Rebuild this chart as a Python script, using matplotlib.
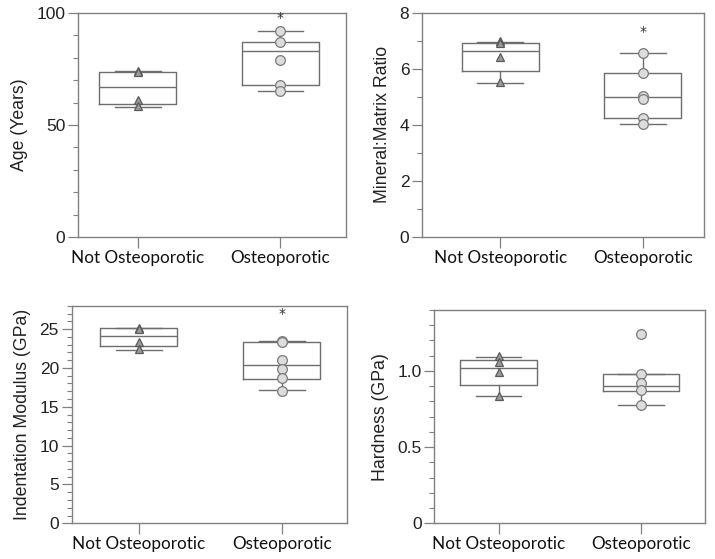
import matplotlib
matplotlib.use("Agg")
import matplotlib.pyplot as plt
from matplotlib.ticker import MultipleLocator

groups = ["Not Osteoporotic", "Osteoporotic"]

# individual points
age_not = [74.0, 73.5, 61.0, 58.5]
age_ost = [92.1, 87.0, 79.0, 68.0, 65.0]
mm_not = [6.99, 6.93, 6.43, 5.52]
mm_ost = [6.57, 5.86, 5.05, 4.94, 4.25, 4.02]
mod_not = [25.2, 25.0, 23.3, 22.4]
mod_ost = [23.45, 23.4, 21.0, 19.9, 18.7, 17.05]
hard_not = [1.10, 1.057, 0.99, 0.838]
hard_ost = [1.243, 0.98, 0.919, 0.875, 0.775]

# box stats: whislo, q1, median, q3, whishi
age_box = [[58.0, 59.4, 67.0, 73.5, 74.0], [65.0, 67.9, 82.9, 87.0, 91.8]]
mm_box = [[5.5, 5.94, 6.63, 6.93, 6.96], [4.04, 4.24, 5.0, 5.86, 6.57]]
mod_box = [[22.3, 22.8, 24.1, 25.1, 25.2], [17.1, 18.6, 20.4, 23.4, 23.5]]
hard_box = [[0.834, 0.908, 1.018, 1.07, 1.094], [0.775, 0.871, 0.904, 0.98, 0.98]]

# significance star height (None = no star)
age_star = 97.8
mm_star = 7.3
mod_star = 26.9
hard_star = None

line_col = "#6e6e6e"
spine_col = "#808080"

fig = plt.figure(figsize=(7.15, 5.59), dpi=100)

panels = [
    dict(rect=[0.109, 0.576, 0.375, 0.401], pts=(age_not, age_ost), box=age_box,
         star=age_star, ylim=(0, 100), major=50, minor=10, ylabel="Age (Years)",
         xlim=(0.58, 2.46), fmt=lambda v: f"{v:.0f}"),
    dict(rect=[0.590, 0.576, 0.395, 0.401], pts=(mm_not, mm_ost), box=mm_box,
         star=mm_star, ylim=(0, 8), major=2, minor=1, ylabel="Mineral:Matrix Ratio",
         xlim=(0.45, 2.43), fmt=lambda v: f"{v:.0f}"),
    dict(rect=[0.100, 0.0639, 0.385, 0.389], pts=(mod_not, mod_ost), box=mod_box,
         star=mod_star, ylim=(0, 28), major=5, minor=1, ylabel="Indentation Modulus (GPa)",
         xlim=(0.53, 2.455), fmt=lambda v: f"{v:.0f}"),
    dict(rect=[0.607, 0.0639, 0.379, 0.3816], pts=(hard_not, hard_ost), box=hard_box,
         star=hard_star, ylim=(0, 1.4), major=0.5, minor=0.1, ylabel="Hardness (GPa)",
         xlim=(0.545, 2.45), fmt=lambda v: "0" if v == 0 else f"{v:.1f}"),
]

for p in panels:
    ax = fig.add_axes(p["rect"])
    stats = []
    for b in p["box"]:
        stats.append(dict(whislo=b[0], q1=b[1], med=b[2], q3=b[3], whishi=b[4], fliers=[]))
    ax.bxp(stats, positions=[1, 2], widths=0.54, showfliers=False,
           boxprops=dict(color=line_col, linewidth=1.0),
           medianprops=dict(color=line_col, linewidth=1.0),
           whiskerprops=dict(color=line_col, linewidth=1.0),
           capprops=dict(color=line_col, linewidth=1.0), capwidths=0.32)
    not_pts, ost_pts = p["pts"]
    ax.plot([1] * len(not_pts), not_pts, linestyle="none", marker="^", markersize=6,
            markerfacecolor="#9a9a9a", markeredgecolor="#5a5a5a", markeredgewidth=0.9, zorder=3)
    ax.plot([2] * len(ost_pts), ost_pts, linestyle="none", marker="o", markersize=7,
            markerfacecolor="#dcdcdc", markeredgecolor="#7a7a7a", markeredgewidth=0.9, zorder=3)
    if p["star"] is not None:
        ax.text(2, p["star"], "*", ha="center", va="center", fontsize=10, color="#333333")

    ax.set_xlim(*p["xlim"])
    ax.set_ylim(*p["ylim"])
    ax.yaxis.set_major_locator(MultipleLocator(p["major"]))
    ax.yaxis.set_minor_locator(MultipleLocator(p["minor"]))
    ticks = ax.get_yticks()
    ticks = [t for t in ticks if p["ylim"][0] - 1e-9 <= t <= p["ylim"][1] + 1e-9]
    ax.set_yticks(ticks)
    ax.set_yticklabels([p["fmt"](t) for t in ticks], fontsize=12.5, family="Liberation Sans",
                       color="#222222")
    ax.set_xticks([1, 2])
    ax.set_xticklabels(groups, fontsize=12.3, family="Lato", color="#111111")
    ax.set_ylabel(p["ylabel"], fontsize=12.7, family="Liberation Sans", color="#222222",
                  labelpad=6)

    for s in ax.spines.values():
        s.set_color(spine_col)
        s.set_linewidth(1.0)
    ax.tick_params(axis="y", which="major", direction="out", length=7, width=0.9,
                   color=spine_col, pad=2)
    ax.tick_params(axis="y", which="minor", direction="out", length=3.5, width=0.8,
                   color=spine_col)
    ax.tick_params(axis="x", which="major", direction="out", length=8, width=0.9,
                   color=spine_col, pad=1)

fig.savefig("out.png", dpi=100)
